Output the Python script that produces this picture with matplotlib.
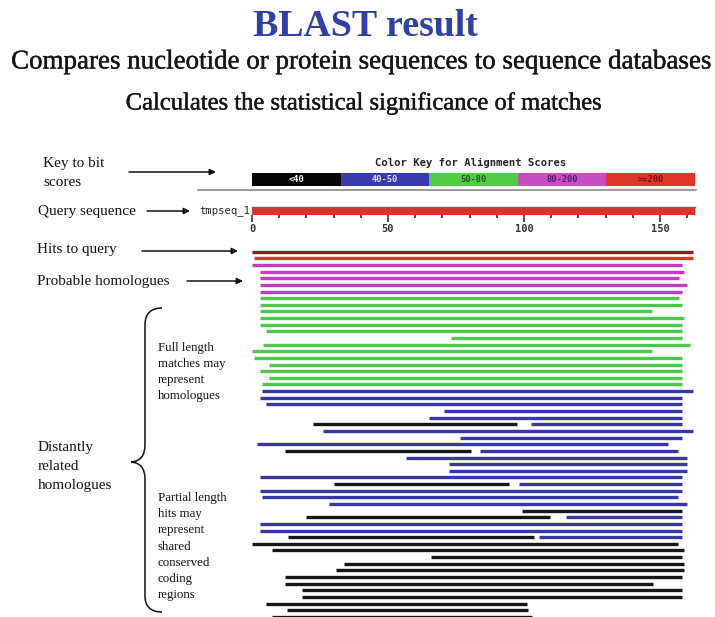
import matplotlib
matplotlib.use('Agg')
import matplotlib.pyplot as plt
from matplotlib.path import Path
from matplotlib.patches import PathPatch
import matplotlib.patheffects as pe

# ---------------- data ----------------
key_labels = ['<40', '40-50', '50-80', '80-200', '>=200']
key_colors = ['#050505', '#3a3aac', '#52cc48', '#c34fc3', '#e2352a']
key_text_colors = ['#ffffff', '#e0e0ff', '#1d5a1d', '#5a1a6a', '#7a1010']

score_colors = {'top': '#8c1c1c', '>=200': '#e0352a', '80-200': '#c23dc2',
                '50-80': '#4cc84c', '40-50': '#3636a6', '<40': '#161616'}

query_name = 'tmpseq_1'
query_length = 163
query_major_ticks = [0, 50, 100, 150]
query_minor_ticks = [10, 20, 30, 40, 60, 70, 80, 90, 110, 120, 130, 140, 160]

hit_row = [0, 1, 2, 3, 4, 5, 6, 7, 8, 9, 10, 11, 12, 13, 14, 15, 16, 17, 18, 19,
           20, 21, 22, 23, 24, 25, 26, 26, 27, 28, 29, 30, 30, 31, 32, 33, 34, 35, 35,
           36, 37, 38, 39, 40, 40, 41, 42, 43, 43, 44, 45, 46, 47, 48, 49, 50, 51,
           52, 53, 54, 55]
hit_start = [0, 0.7, 0, 2.9, 2.9, 2.9, 2.9, 2.9, 2.9, 2.9, 2.9, 2.9, 5, 73, 4, 0,
             0.7, 6.3, 2.9, 6.3, 3.7, 3.7, 2.9, 5, 70.5, 65, 22.4, 102.6, 26, 76.5,
             1.8, 12, 84, 56.6, 72.4, 72.4, 2.9, 30, 98, 2.9, 3.7, 28.3, 99.3, 20,
             115.4, 2.9, 2.9, 13.2, 105.5, 0, 7.4, 66, 34, 31, 12, 12, 18.4, 18.4,
             5, 13, 7.4]
hit_end = [162, 162, 158, 159, 157, 160, 158, 157, 158, 147, 159, 158, 158, 158,
           161, 147, 158, 158, 158, 158, 158, 162, 158, 158, 158, 158, 97.4, 158,
           162, 158, 153, 80.5, 156.6, 160, 160, 160, 158, 94.5, 158, 158, 156.6,
           160, 158, 109.6, 158, 158, 158, 103.7, 158, 156.6, 159, 158, 159, 159,
           158, 147.5, 158, 158, 101, 101.5, 103]
hit_score = ['top', '>=200'] + ['80-200'] * 5 + ['50-80'] * 14 + \
            ['40-50'] * 5 + ['<40', '40-50', '40-50', '40-50', '40-50', '<40', '40-50',
             '40-50', '40-50', '40-50', '40-50', '<40', '40-50', '40-50', '40-50', '40-50',
             '<40', '<40', '40-50', '40-50', '40-50', '<40', '40-50'] + ['<40'] * 12

# ---------------- figure ----------------
W, H = 715, 617
fig = plt.figure(figsize=(W / 100, H / 100), dpi=100)
ax0 = fig.add_axes([0, 0, 1, 1])
ax0.set_xlim(0, W)
ax0.set_ylim(H, 0)
ax0.axis('off')


def frame(l, t, r, b):
    return [l / W, 1 - b / H, (r - l) / W, (b - t) / H]


renderer = fig.canvas.get_renderer()


def fit_text(x, y, s, width_px, **kw):
    t = ax0.text(x, y, s, fontsize=20, **kw)
    w = t.get_window_extent(renderer).width
    t.set_fontsize(20 * width_px / w)
    return t


SERIF = 'Liberation Serif'
MONO = 'DejaVu Sans Mono'
thick = [pe.withStroke(linewidth=0.3, foreground='#151515')]

# titles
fit_text(365.5, 26, 'BLAST result', 225, ha='center', va='center', family=SERIF,
         fontweight='bold', color='#3040a6')
fit_text(361, 62, 'Compares nucleotide or protein sequences to sequence databases', 700,
         ha='center', va='center', family=SERIF, color='#151515', path_effects=thick)
fit_text(364, 103, 'Calculates the statistical significance of matches', 476,
         ha='center', va='center', family=SERIF, color='#151515', path_effects=thick)

X0, X1 = 252, 695
XMAX = 162.9

# ---------------- colour key ----------------
ax0.text(471, 163, 'Color Key for Alignment Scores', ha='center', va='center',
         family=MONO, fontweight='bold', fontsize=7.6, color='#222222')
axk = fig.add_axes(frame(X0, 173, X1, 186))
axk.barh([0] * len(key_labels), [1] * len(key_labels), left=list(range(len(key_labels))),
         height=1, color=key_colors, edgecolor='none')
axk.set_xlim(0, len(key_labels))
axk.set_ylim(-0.5, 0.5)
axk.axis('off')
for i, (lab, tc) in enumerate(zip(key_labels, key_text_colors)):
    axk.text(i + 0.5, 0, lab, ha='center', va='center', family=MONO, fontsize=6.3,
             fontweight='bold', color=tc)
ax0.plot([198, 696], [189.5, 189.5], color='#8a8a8a', lw=1.2)

# ---------------- query ----------------
axq = fig.add_axes(frame(X0, 207, X1, 215))
axq.barh(0, query_length, height=1, color='#e0302a', edgecolor='none')
axq.set_xlim(0, XMAX)
axq.set_ylim(-0.5, 0.5)
for s in ['left', 'right', 'bottom']:
    axq.spines[s].set_visible(False)
axq.spines['top'].set_color('#6a6a6a')
axq.spines['top'].set_linewidth(1.0)
axq.set_yticks([])
axq.set_xticks(query_major_ticks)
axq.set_xticks(query_minor_ticks, minor=True)
axq.set_xticklabels([str(v) for v in query_major_ticks], family=MONO, fontweight='bold',
                    fontsize=7.5, color='#333333')
axq.tick_params(axis='x', which='major', length=5, width=1.2, direction='out', pad=1.5,
                color='#333333')
axq.tick_params(axis='x', which='minor', length=2.5, width=1.2, direction='out',
                color='#333333')
ax0.text(250, 211, query_name, ha='right', va='center', family=MONO, fontsize=7.6,
         color='#222222')

# ---------------- hits ----------------
axh = fig.add_axes(frame(X0, 248, X1, 617))
axh.set_xlim(0, XMAX)
axh.set_ylim(55.02, -0.557)
axh.axis('off')
axh.hlines(hit_row, hit_start, hit_end, colors=[score_colors[s] for s in hit_score],
           lw=2.4, capstyle='butt')

# ---------------- annotations ----------------
ann_kw = dict(family=SERIF, fontsize=11, color='#111111', va='center', ha='left')
ax0.text(43, 163, 'Key to bit', **ann_kw)
ax0.text(43, 182, 'scores', **ann_kw)
ax0.text(38, 211, 'Query sequence', **ann_kw)
ax0.text(37, 250, 'Hits to query', **ann_kw)
ax0.text(37, 282, 'Probable homologues', **ann_kw)
for txt, yy in zip(['Distantly', 'related', 'homologues'], [447, 466, 485]):
    ax0.text(38, yy, txt, **ann_kw)

in_kw = dict(family=SERIF, fontsize=9.3, color='#111111', va='center', ha='left')
for txt, yy in zip(['Full length', 'matches may', 'represent', 'homologues'],
                   [348, 364, 380, 396]):
    ax0.text(158, yy, txt, **in_kw)
for txt, yy in zip(['Partial length', 'hits may', 'represent', 'shared', 'conserved',
                    'coding', 'regions'], [498, 514, 530, 547, 563, 579, 595]):
    ax0.text(158, yy, txt, **in_kw)

arrow = dict(arrowstyle='-|>', lw=1.1, color='#111111', mutation_scale=9,
             shrinkA=0, shrinkB=0)
for (xa, xb, yy) in [(129, 216, 172), (147, 190, 211), (142, 238, 251), (187, 243, 281)]:
    ax0.annotate('', xy=(xb, yy), xytext=(xa, yy), arrowprops=arrow)

# curly brace
verts = [(162, 308), (145, 308), (145, 325), (145, 445), (145, 461), (131, 462),
         (145, 463), (145, 479), (145, 596), (145, 612), (162, 612)]
codes = [Path.MOVETO, Path.CURVE3, Path.CURVE3, Path.LINETO, Path.CURVE3, Path.CURVE3,
         Path.CURVE3, Path.CURVE3, Path.LINETO, Path.CURVE3, Path.CURVE3]
ax0.add_patch(PathPatch(Path(verts, codes), fill=False, lw=1.1, color='#111111'))

fig.savefig('out.png', dpi=100)
